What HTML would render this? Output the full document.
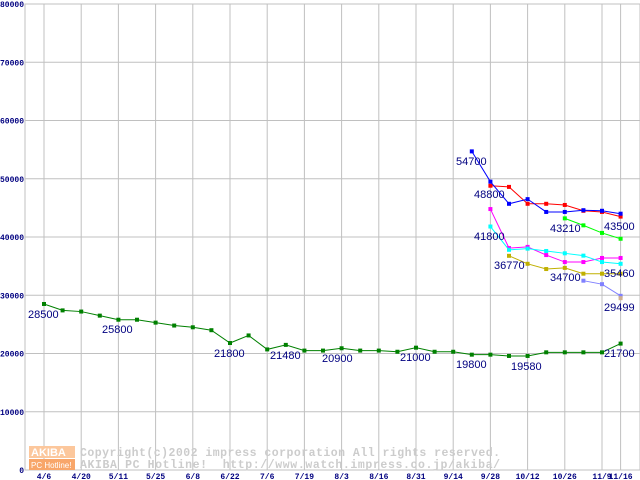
<!DOCTYPE html>
<html><head><meta charset="utf-8"><style>
body{margin:0;background:#fff;}
svg{display:block;font-family:"Liberation Sans",sans-serif;}
</style></head><body>
<svg id="chart" width="640" height="480" xmlns="http://www.w3.org/2000/svg">
<g id="grid"></g>
<g id="wm">
<rect x="29" y="446" width="46" height="12" fill="#fcc79c"/>
<text x="31" y="456" font-size="11" fill="#fff" font-weight="bold">AKIBA</text>
<rect x="29" y="459" width="46" height="11" fill="#f8a66a"/>
<text x="31" y="468" font-size="8" fill="#fff">PC Hotline!</text>
<text x="80" y="456" font-family="Liberation Mono,monospace" font-weight="bold" font-size="11.5" fill="#cccccc" textLength="420">Copyright(c)2002 impress corporation All rights reserved.</text>
<text x="80" y="468" font-family="Liberation Mono,monospace" font-weight="bold" font-size="11.5" fill="#cccccc" textLength="420" xml:space="preserve">AKIBA PC Hotline!  http://www.watch.impress.co.jp/akiba/</text>
</g>
<g id="series"></g>
<g id="labels"></g>
</svg>
<script>
const xTickLabels=["4/6","4/20","5/11","5/25","6/8","6/22","7/6","7/19","8/3","8/16","8/31","9/14","9/28","10/12","10/26","11/9","11/16"];
const xTickIdx=[0,2,4,6,8,10,12,14,16,18,20,22,24,26,28,30,31];
const yTicks=[0,10000,20000,30000,40000,50000,60000,70000,80000];
const greenVals=[28500,27400,27200,26500,25800,25800,25300,24800,24500,24000,21800,23100,20700,21480,20500,20500,20900,20500,20500,20300,21000,20300,20300,19800,19800,19580,19580,20200,20200,20200,20200,21700];
const blueVals=[null,54700,49500,45700,46500,44300,44300,44600,44500,44000];
const redVals=[null,null,48800,48600,45700,45700,45500,44500,44300,43500];
const lime2Vals=[null,null,null,null,null,null,43200,42000,40700,39700];
const magentaVals=[null,null,44800,38100,38300,36900,35700,35700,36400,36400];
const cyanVals=[null,null,41800,37800,38000,37600,37200,36800,35700,35400];
const oliveVals=[null,null,null,36770,35400,34500,34700,33700,33700,33700];
const lavVals=[null,null,null,null,null,null,null,32500,31900,29900];
const tanVals=[null,null,null,null,null,null,null,null,null,29499];
const lateStart=22;
const valueLabels=[["28500",28,318],["25800",102,333],["21800",214,357],["21480",270,359],["20900",322,362],["21000",400,361],["19800",456,368],["19580",511,370],["21700",604,357],["54700",456,165],["48800",474,198],["41800",474,240],["36770",494,269],["43210",550,232],["34700",550,281],["43500",604,230],["35460",604,277],["29499",604,311]];
const NS="http://www.w3.org/2000/svg";
const X=i=>44+18.6*i, Y=v=>470-v*0.005825;
const grid=document.getElementById('grid'),ser=document.getElementById('series'),lab=document.getElementById('labels');
function mk(t,a,p){const e=document.createElementNS(NS,t);for(const k in a)e.setAttribute(k,a[k]);p.appendChild(e);return e;}
mk('rect',{x:25,y:4,width:615,height:466,fill:'none',stroke:'#c0c0c0'},grid);
yTicks.forEach(v=>{const l=mk('line',{x1:25,x2:640,y1:Y(v),y2:Y(v),stroke:'#c0c0c0'},grid);


const t=mk('text',{x:24,y:Y(v)+3,'text-anchor':'end','font-size':8,'font-weight':'bold',fill:'#000080','font-family':'Liberation Mono,monospace'},grid);t.textContent=v;

});
xTickIdx.forEach((i,k)=>{const l=mk('line',{x1:X(i),x2:X(i),y1:4,y2:470,stroke:'#c0c0c0'},grid);


const t=mk('text',{x:X(i),y:479,'text-anchor':'middle','font-size':8,'font-weight':'bold',fill:'#000080','font-family':'Liberation Mono,monospace'},grid);t.textContent=xTickLabels[k];

});
function series(vals,start,color,name){const pts=[];vals.forEach((v,j)=>{if(v!=null)pts.push([X(start+j),Y(v)]);});
const pl=mk('polyline',{points:pts.map(p=>p.join(',')).join(' '),fill:'none',stroke:color,'stroke-width':1},ser);


pts.forEach(p=>{const r=mk('rect',{x:p[0]-2,y:p[1]-2,width:4,height:4,fill:color},ser);

});}
series(greenVals,0,'#008000','green-series');
series(redVals,lateStart,'#ff0000','red-series');
series(blueVals,lateStart,'#0000ff','blue-series');
series(lime2Vals,lateStart,'#00ff00','lime-series');
series(magentaVals,lateStart,'#ff00ff','magenta-series');
series(cyanVals,lateStart,'#00ffff','cyan-series');
series(oliveVals,lateStart,'#c0b000','olive-series');
series(lavVals,lateStart,'#8080ff','lavender-series');
series(tanVals,lateStart,'#d0b090','tan-series');
valueLabels.forEach(a=>{const t=mk('text',{x:a[1],y:a[2],'font-size':11,fill:'#000080'},lab);t.textContent=a[0];

});
</script>
</body></html>
